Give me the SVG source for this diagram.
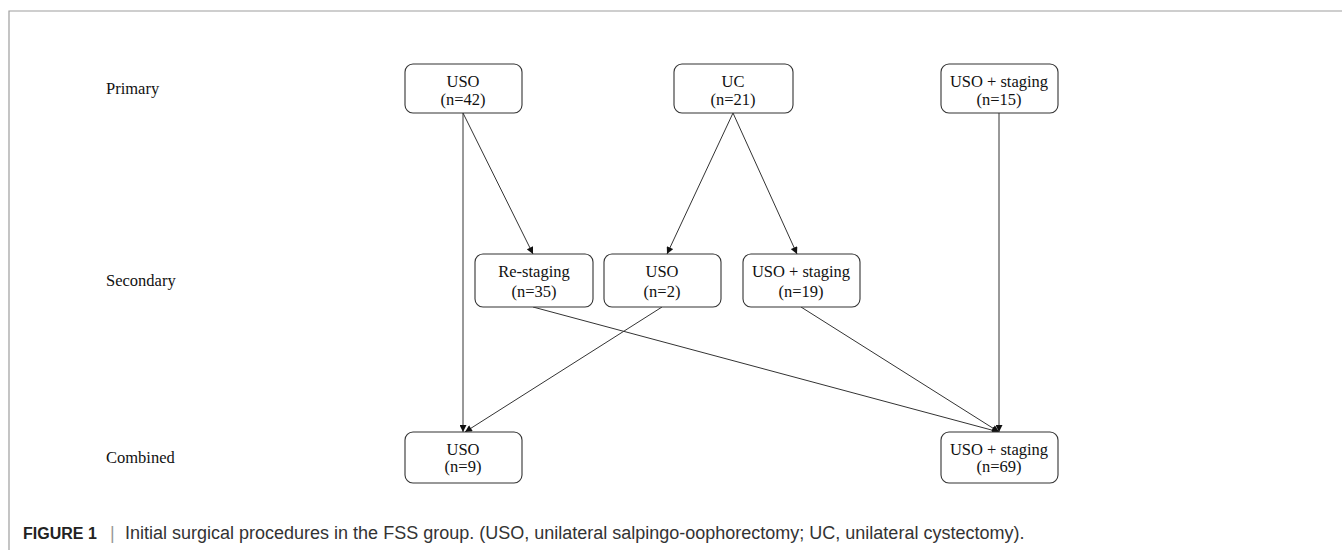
<svg xmlns="http://www.w3.org/2000/svg" width="1342" height="550" viewBox="0 0 1342 550">
<defs>
<style>
.frame{fill:none;stroke:#9e9e9e;stroke-width:1.2}
.box{fill:#fff;stroke:#333;stroke-width:1.1}
.t{font-family:"Liberation Serif",serif;font-size:16.5px;fill:#111;text-anchor:middle}
.lab{font-family:"Liberation Serif",serif;font-size:16.5px;fill:#111}
.edge{stroke:#333;stroke-width:1;fill:none;marker-end:url(#ah)}
.cap{font-family:"Liberation Sans",Arial,sans-serif;font-size:18px;fill:#333}
</style>
<marker id="ah" viewBox="0 0 10 10" refX="10" refY="5" markerWidth="8" markerHeight="7" orient="auto" markerUnits="userSpaceOnUse">
<path d="M0,0 L10,5 L0,10 z" fill="#111"/>
</marker>
</defs>
<rect width="1342" height="550" fill="#fff"/>
<polyline class="frame" points="9,550 9,11 1342,11"/>
<g id="row-labels">
<text class="lab" x="106" y="94">Primary</text>
<text class="lab" x="106" y="286">Secondary</text>
<text class="lab" x="106" y="463">Combined</text>
</g>
<g id="connectors">
<line class="edge" x1="463" y1="113" x2="463" y2="432"/>
<line class="edge" x1="463" y1="113" x2="533" y2="254"/>
<line class="edge" x1="733" y1="113" x2="667" y2="254"/>
<line class="edge" x1="733" y1="113" x2="797" y2="254"/>
<line class="edge" x1="999" y1="113" x2="999" y2="432"/>
<line class="edge" x1="533" y1="307" x2="999" y2="432"/>
<line class="edge" x1="662" y1="307" x2="465" y2="432"/>
<line class="edge" x1="801" y1="307" x2="999" y2="432"/>
</g>
<g id="n-uso42">
<rect class="box" x="405" y="64" width="117" height="49" rx="8"/>
<text class="t" x="463" y="87">USO</text>
<text class="t" x="463" y="105">(n=42)</text>
</g>
<g id="n-uc21">
<rect class="box" x="674" y="64" width="119" height="49" rx="8"/>
<text class="t" x="733" y="87">UC</text>
<text class="t" x="733" y="105">(n=21)</text>
</g>
<g id="n-usostg15">
<rect class="box" x="941" y="64" width="117" height="49" rx="8"/>
<text class="t" x="999" y="87">USO + staging</text>
<text class="t" x="999" y="105">(n=15)</text>
</g>
<g id="n-restg35">
<rect class="box" x="475" y="254" width="118" height="53" rx="8"/>
<text class="t" x="534" y="277">Re-staging</text>
<text class="t" x="534" y="297">(n=35)</text>
</g>
<g id="n-uso2">
<rect class="box" x="604" y="254" width="117" height="53" rx="8"/>
<text class="t" x="662" y="277">USO</text>
<text class="t" x="662" y="297">(n=2)</text>
</g>
<g id="n-usostg19">
<rect class="box" x="743" y="254" width="117" height="53" rx="8"/>
<text class="t" x="801" y="277">USO + staging</text>
<text class="t" x="801" y="297">(n=19)</text>
</g>
<g id="n-uso9">
<rect class="box" x="405" y="432" width="117" height="51" rx="8"/>
<text class="t" x="463" y="455">USO</text>
<text class="t" x="463" y="472">(n=9)</text>
</g>
<g id="n-usostg69">
<rect class="box" x="941" y="432" width="117" height="51" rx="8"/>
<text class="t" x="999" y="455">USO + staging</text>
<text class="t" x="999" y="472">(n=69)</text>
</g>
<text class="cap" y="539"><tspan x="23" font-weight="bold" font-size="16px" fill="#222">FIGURE 1</tspan><tspan x="110" fill="#999">|</tspan><tspan x="125">Initial surgical procedures in the FSS group. (USO, unilateral salpingo-oophorectomy; UC, unilateral cystectomy).</tspan></text>
</svg>
